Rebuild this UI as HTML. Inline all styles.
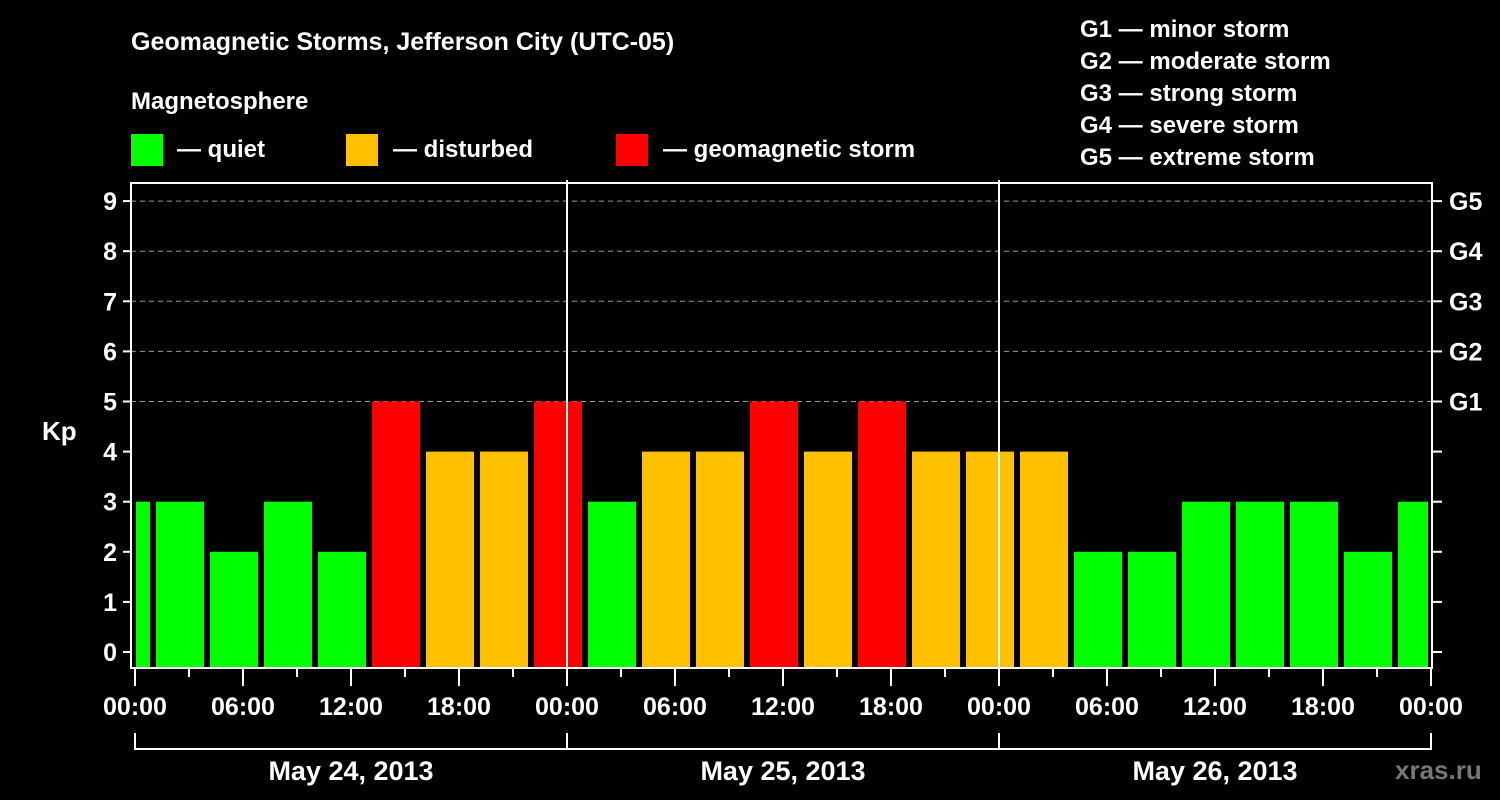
<!DOCTYPE html>
<html><head><meta charset="utf-8"><style>
html,body{margin:0;padding:0;background:#000;}
svg{display:block;font-family:"Liberation Sans",Arial,sans-serif;font-weight:bold;}
</style></head><body>
<svg id="c" width="1500" height="800" viewBox="0 0 1500 800">
<text x="131" y="50" fill="#fff" font-size="25">Geomagnetic Storms, Jefferson City (UTC-05)</text>
<text x="131" y="109" fill="#fff" font-size="24">Magnetosphere</text>
<g><rect x="131" y="134" width="32" height="32" fill="#00ff00"/><text x="177" y="157" fill="#fff" font-size="24">— quiet</text></g>
<g><rect x="346" y="134" width="32" height="32" fill="#ffc000"/><text x="393" y="157" fill="#fff" font-size="24">— disturbed</text></g>
<g><rect x="616" y="134" width="32" height="32" fill="#ff0000"/><text x="663" y="157" fill="#fff" font-size="24">— geomagnetic storm</text></g>
<g fill="#fff" font-size="24">
<text x="1080" y="37">G1 — minor storm</text>
<text x="1080" y="69">G2 — moderate storm</text>
<text x="1080" y="101">G3 — strong storm</text>
<text x="1080" y="133">G4 — severe storm</text>
<text x="1080" y="165">G5 — extreme storm</text>
</g>
<text x="42" y="440" fill="#fff" font-size="26">Kp</text>
<text x="1395" y="779" fill="#777" font-size="26">xras.ru</text>
<g id="plot"></g>
</svg>
<script>
const kpValues = [3, 3,2,3,2,5,4,4,5, 3,4,4,5,4,5,4,4, 4,2,2,3,3,3,2,3];
const barStartHours = [-2, 1,4,7,10,13,16,19,22, 25,28,31,34,37,40,43,46, 49,52,55,58,61,64,67,70];
const yTicks = [0,1,2,3,4,5,6,7,8,9];
const gLabels = ["G1","G2","G3","G4","G5"];
const gLevels = [5,6,7,8,9];
const xTickLabels = ["00:00","06:00","12:00","18:00","00:00","06:00","12:00","18:00","00:00","06:00","12:00","18:00","00:00"];
const dayLabels = ["May 24, 2013","May 25, 2013","May 26, 2013"];

const NS="http://www.w3.org/2000/svg";
const g=document.getElementById('plot');
const L=131,R=1432,T=183,B=668;
const x=h=>135+h*18;
const y=v=>652-v*50.1;
function el(t,a,p){const e=document.createElementNS(NS,t);for(const k in a)e.setAttribute(k,a[k]);(p||g).appendChild(e);return e;}
function color(v){return v>=5?"#ff0000":v>=4?"#ffc000":"#00ff00";}
// grid
gLevels.forEach(v=>{const l=el('line',{x1:L,x2:R,y1:y(v),y2:y(v),stroke:"#999","stroke-width":1,"stroke-dasharray":"5,4"});

});
// bars
kpValues.forEach((v,i)=>{let x0=x(barStartHours[i])+3,x1=x(barStartHours[i]+3)-3;
x0=Math.max(x0,136);x1=Math.min(x1,1428);
const r=el('rect',{x:x0,y:y(v),width:x1-x0,height:B-y(v),fill:color(v)});

});
// day separators
[24,48].forEach(h=>{const l=el('line',{x1:x(h),x2:x(h),y1:T-3,y2:B,stroke:"#fff","stroke-width":2});

});
// frame
const f=el('rect',{x:L,y:T,width:R-L,height:B-T,fill:"none",stroke:"#fff","stroke-width":2});


// y ticks
yTicks.forEach(v=>{el('line',{x1:L-8,x2:L,y1:y(v),y2:y(v),stroke:"#fff","stroke-width":2});
el('line',{x1:R,x2:R+10,y1:y(v),y2:y(v),stroke:"#fff","stroke-width":2});
const t=el('text',{x:L-14,y:y(v)+9,fill:"#fff","font-size":25,"text-anchor":"end"});t.textContent=v;

});
gLevels.forEach((v,i)=>{const t=el('text',{x:1449,y:y(v)+9,fill:"#fff","font-size":25});t.textContent=gLabels[i];

});
// x ticks
for(let h=0;h<=72;h+=3){const major=h%6===0;el('line',{x1:x(h),x2:x(h),y1:B,y2:B+(major?18:9),stroke:"#fff","stroke-width":2});}
xTickLabels.forEach((s,i)=>{const t=el('text',{x:x(i*6),y:715,fill:"#fff","font-size":25,"text-anchor":"middle"});t.textContent=s;

});
// day brackets
el('line',{x1:x(0),x2:x(72),y1:749,y2:749,stroke:"#fff","stroke-width":2});
[0,24,48,72].forEach(h=>el('line',{x1:x(h),x2:x(h),y1:733,y2:750,stroke:"#fff","stroke-width":2}));
dayLabels.forEach((s,i)=>{const t=el('text',{x:x(i*24+12),y:780,fill:"#fff","font-size":27,"text-anchor":"middle"});t.textContent=s;

});
</script>
</body></html>
